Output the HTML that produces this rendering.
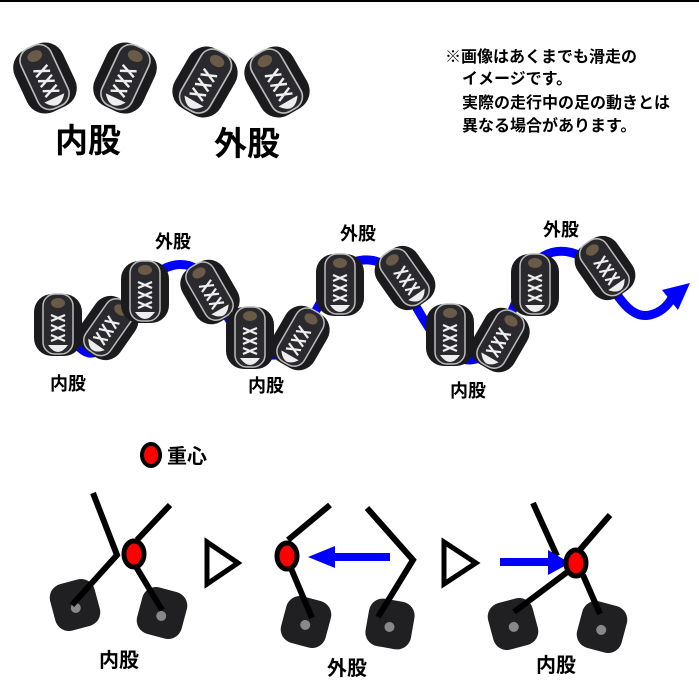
<!DOCTYPE html>
<html><head><meta charset="utf-8"><style>
html,body{margin:0;padding:0;background:#fff;}
svg{display:block;}
text{font-family:"Liberation Sans","Noto Sans CJK JP",sans-serif;font-weight:bold;fill:#000;}
</style></head><body>
<svg width="699" height="699" viewBox="0 0 699 699" xmlns="http://www.w3.org/2000/svg">
<defs>
<g id="shoe">
  <rect x="-24" y="-31" width="48" height="62" rx="18" fill="#1b1b1e"/>
  <rect x="-15" y="-31" width="30" height="60" rx="12" fill="#2a2a2e" stroke="#bbb" stroke-width="1.5"/>
  <path d="M-10 20 Q0 34 10 20 Z" fill="#eee"/>
  <path d="M-7 -10 L7 -4 M-7 -4 L7 -10 M-7 0 L7 6 M-7 6 L7 0 M-7 10 L7 16 M-7 16 L7 10" stroke="#eee" stroke-width="2.2"/>
  <ellipse cx="0" cy="-22" rx="7" ry="5" fill="#6a5a48"/>
</g>
<g id="pad">
  <rect x="-23" y="-24" width="46" height="48" rx="14" fill="#202022"/>
  <circle cx="0" cy="3" r="5" fill="#888"/>
</g>
</defs>
<rect x="0" y="0" width="699" height="2" fill="#000"/>

<use href="#shoe" transform="translate(45,78) rotate(-25) scale(1.1)"/>
<use href="#shoe" transform="translate(125,78) rotate(25) scale(1.1)"/>
<use href="#shoe" transform="translate(205,82) rotate(-150) scale(1.1,-1.1)"/>
<use href="#shoe" transform="translate(277,82) rotate(150) scale(1.1,-1.1)"/>
<text x="55" y="152" font-size="33">内股</text>
<text x="214" y="155" font-size="33">外股</text>

<text font-size="16" x="445" y="62">※画像はあくまでも滑走の</text>
<text font-size="16" x="462" y="84">イメージです。</text>
<text font-size="16" x="462" y="108">実際の走行中の足の動きとは</text>
<text font-size="16" x="462" y="131">異なる場合があります。</text>

<path d="M62 320 C75 345 85 360 100 350 C115 335 130 300 150 280 C165 262 195 255 210 285 C225 310 240 350 270 355 C295 358 310 320 330 285 C345 255 380 250 400 280 C420 310 440 360 470 360 C500 358 510 310 530 270 C545 245 575 245 600 270 C615 290 628 320 650 315 C662 312 668 305 672 298" fill="none" stroke="#0000ff" stroke-width="9"/>
<path d="M662 290 L690 283 L678 310 Z" fill="#0000ff"/>

<use href="#shoe" transform="translate(58,325)"/>
<use href="#shoe" transform="translate(108,328) rotate(35)"/>
<use href="#shoe" transform="translate(145,292)"/>
<use href="#shoe" transform="translate(210,292) rotate(-30)"/>
<use href="#shoe" transform="translate(250,338)"/>
<use href="#shoe" transform="translate(300,338) rotate(30)"/>
<use href="#shoe" transform="translate(340,285)"/>
<use href="#shoe" transform="translate(405,278) rotate(-35)"/>
<use href="#shoe" transform="translate(450,335)"/>
<use href="#shoe" transform="translate(500,340) rotate(30)"/>
<use href="#shoe" transform="translate(535,285)"/>
<use href="#shoe" transform="translate(605,268) rotate(-35)"/>

<text font-size="18" x="155" y="248">外股</text>
<text font-size="18" x="340" y="240">外股</text>
<text font-size="18" x="543" y="236">外股</text>
<text font-size="18" x="50" y="390">内股</text>
<text font-size="18" x="248" y="392">内股</text>
<text font-size="18" x="450" y="397">内股</text>

<ellipse cx="151" cy="455" rx="9" ry="11" fill="#f00" stroke="#000" stroke-width="4"/>
<text font-size="20" x="167" y="463">重心</text>

<use href="#pad" transform="translate(75,605) rotate(-15)"/>
<use href="#pad" transform="translate(162,613) rotate(15)"/>
<g stroke="#000" stroke-width="6" fill="none">
  <path d="M93 493 L117 555 L72 605"/>
  <path d="M137 540 L170 505"/>
  <path d="M135 565 L162 610"/>
</g>
<ellipse cx="134" cy="554" rx="10" ry="13" fill="#f00" stroke="#000" stroke-width="5"/>
<text font-size="20" x="99" y="667">内股</text>

<path d="M207 542 L238 563 L207 584 Z" fill="none" stroke="#000" stroke-width="5"/>

<use href="#pad" transform="translate(306,622) rotate(15)"/>
<use href="#pad" transform="translate(390,624) rotate(10)"/>
<g stroke="#000" stroke-width="6" fill="none">
  <path d="M288 540 L330 505"/>
  <path d="M290 566 L312 618"/>
  <path d="M367 508 L413 560 L378 617"/>
</g>
<ellipse cx="287" cy="556" rx="10" ry="13" fill="#f00" stroke="#000" stroke-width="5"/>
<path d="M390 557 L325 557" stroke="#0000ff" stroke-width="8"/>
<path d="M308 557 L335 546 L335 568 Z" fill="#0000ff"/>
<text font-size="20" x="327" y="675">外股</text>

<path d="M444 542 L476 563 L444 584 Z" fill="none" stroke="#000" stroke-width="5"/>

<use href="#pad" transform="translate(513,624) rotate(-15)"/>
<use href="#pad" transform="translate(602,627) rotate(15)"/>
<g stroke="#000" stroke-width="6" fill="none">
  <path d="M533 503 L557 556"/>
  <path d="M610 515 L578 552"/>
  <path d="M570 570 L514 612"/>
  <path d="M583 575 L600 614"/>
</g>
<path d="M500 562 L555 562" stroke="#0000ff" stroke-width="8"/>
<path d="M570 563 L548 550 L548 575 Z" fill="#0000ff"/>
<ellipse cx="576" cy="563" rx="10" ry="13" fill="#f00" stroke="#000" stroke-width="5"/>
<text font-size="20" x="536" y="672">内股</text>
</svg>
</body></html>
